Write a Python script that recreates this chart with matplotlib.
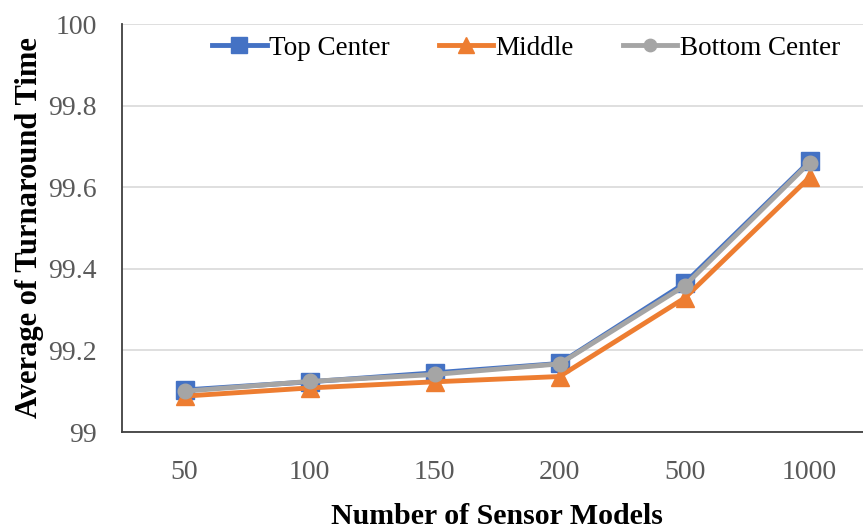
import matplotlib.pyplot as plt
import numpy as np

categories = ["50", "100", "150", "200", "500", "1000"]
top_center = [99.103, 99.123, 99.145, 99.168, 99.364, 99.663]
middle = [99.088, 99.108, 99.123, 99.136, 99.328, 99.624]
bottom_center = [99.100, 99.124, 99.141, 99.167, 99.358, 99.660]

plt.rcParams['font.family'] = ['Liberation Serif', 'DejaVu Serif']

fig = plt.figure(figsize=(8.63, 5.31), dpi=100)
# axes extends slightly past the right edge of the canvas
ax = fig.add_axes([122 / 863, 1 - 432 / 531, 750 / 863, 408 / 531])

x = np.arange(len(categories))
ax.plot(x, top_center, color='#4472C4', lw=3.5, marker='s', ms=13.5, label='Top Center', zorder=3)
ax.plot(x, middle, color='#ED7D31', lw=3.5, marker='^', ms=13.5, label='Middle', zorder=4)
ax.plot(x, bottom_center, color='#A5A5A5', lw=3.5, marker='o', ms=10.5, label='Bottom Center', zorder=5)

ax.set_xlim(-0.5, len(categories) - 0.5)
ax.set_ylim(99, 100)
ax.set_yticks([99, 99.2, 99.4, 99.6, 99.8, 100])
ax.set_yticklabels(['99', '99.2', '99.4', '99.6', '99.8', '100'])
ax.set_xticks(x)
ax.set_xticklabels(categories)

ax.yaxis.grid(True, color='#D9D9D9', lw=1.2)
ax.set_axisbelow(True)
for s in ['top', 'right']:
    ax.spines[s].set_visible(False)
for s in ['left', 'bottom']:
    ax.spines[s].set_color('#404040')
    ax.spines[s].set_linewidth(1.3)

ax.tick_params(axis='both', length=0, labelsize=20, labelcolor='#595959')
ax.tick_params(axis='x', pad=20)
ax.tick_params(axis='y', pad=18)

ax.set_ylabel('Average of Turnaround Time', fontsize=22, fontweight='bold', labelpad=3)
ax.set_xlabel('Number of Sensor Models', fontsize=21.5, fontweight='bold', labelpad=13)

leg = fig.legend(*ax.get_legend_handles_labels(), loc='center',
                 bbox_to_anchor=(526 / 863, 1 - 48 / 531), ncol=3, frameon=False,
                 fontsize=19.5, handlelength=2.0, columnspacing=1.8, handletextpad=0.1,
                 markerscale=0.85)

fig.savefig('out.png', dpi=100)
